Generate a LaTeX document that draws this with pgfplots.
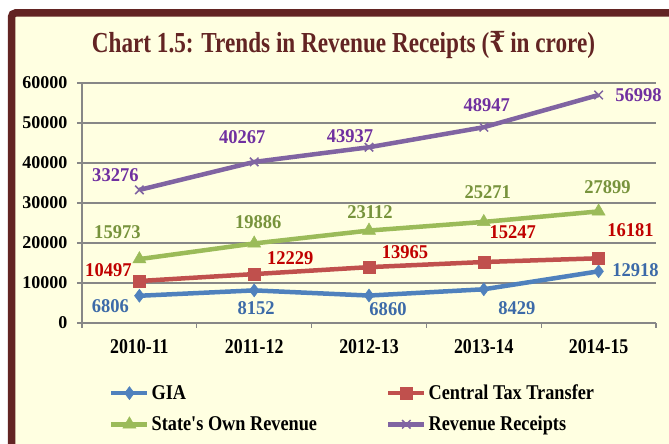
\documentclass[border=0pt]{standalone}
\usepackage{fontspec}
\setmainfont{Liberation Serif}
\newfontfamily\titlefont[FakeStretch=0.80]{Liberation Serif}
\newfontfamily\rupeefont[FakeStretch=0.80]{DejaVu Serif}
\newfontfamily\xfont[FakeStretch=0.85]{Liberation Serif}
\newfontfamily\legfont[FakeStretch=0.87]{Liberation Serif}
\newfontfamily\lblfont[FakeStretch=0.95]{Liberation Serif}
\usepackage{pgfplots}
\pgfplotsset{compat=1.18}
\definecolor{frame}{HTML}{632423}
\definecolor{bg}{HTML}{FFFFE1}
\definecolor{gridc}{HTML}{878787}
\definecolor{cgia}{HTML}{4F81BD}
\definecolor{cctt}{HTML}{C0504D}
\definecolor{csor}{HTML}{9BBB59}
\definecolor{crr}{HTML}{8064A2}
\definecolor{lgia}{HTML}{3C6AA8}
\definecolor{lctt}{HTML}{C00000}
\definecolor{lsor}{HTML}{77933C}
\definecolor{lrr}{HTML}{7030A0}

\pgfplotstableread{
x y
0 6806
1 8152
2 6860
3 8429
4 12918
}\gia
\pgfplotstableread{
x y
0 10497
1 12229
2 13965
3 15247
4 16181
}\ctt
\pgfplotstableread{
x y
0 15973
1 19886
2 23112
3 25271
4 27899
}\sor
\pgfplotstableread{
x y
0 33276
1 40267
2 43937
3 48947
4 56998
}\rr

\begin{document}
\begin{tikzpicture}[x=1pt,y=1pt]
\useasboundingbox (0,0) rectangle (669,444);
\fill[white] (0,0) rectangle (669,444);
\fill[bg] (11.5,0) rectangle (669,431);
\draw[frame, line width=7.5pt, rounded corners=4pt] (11.5,-5) -- (11.5,431) -- (675,431);
\node[anchor=base, text=frame, inner sep=0pt, font=\titlefont\bfseries\fontsize{29}{32}\selectfont] at (343.5,391) {Chart 1.5: Trends in Revenue Receipts ({\rupeefont\bfseries ₹}\,in crore)};

\begin{axis}[
  at={(82pt,121pt)}, anchor=south west,
  scale only axis, width=574pt, height=240pt,
  xmin=-0.5, xmax=4.5, ymin=0, ymax=60000,
  axis x line*=bottom, axis y line*=left,
  axis line style={draw=gridc, line width=1.2pt, -},
  ytick={0,10000,20000,30000,40000,50000,60000},
  yticklabels={0,10000,20000,30000,40000,50000,60000},
  scaled y ticks=false,
  xtick={0,1,2,3,4},
  xticklabels={2010-11,2011-12,2012-13,2013-14,2014-15},
  minor xtick={-0.5,0.5,1.5,2.5,3.5,4.5},
  tick align=outside,
  major tick length=5pt, minor tick length=5pt,
  every major x tick/.append style={draw=none},
  every tick/.append style={draw=gridc, line width=1.2pt},
  ymajorgrids, major grid style={draw=gridc, line width=1.2pt},
  yticklabel style={font=\bfseries\fontsize{18}{20}\selectfont, xshift=-6pt},
  xticklabel style={font=\xfont\bfseries\fontsize{21}{24}\selectfont, yshift=-8pt},
  clip=false,
  legend columns=2,
  legend cell align=left,
  legend style={at={(0.047,-0.357)}, anchor=west, draw=none, fill=none,
    inner sep=0pt, row sep=11pt,
    font=\legfont\bfseries\fontsize{21}{23}\selectfont,
    /tikz/every even column/.append style={column sep=67pt}},
  legend image code/.code={\draw[#1, mark repeat=2, mark phase=2] plot coordinates {(0pt,0pt) (18pt,0pt) (36pt,0pt)};},
]
\addplot[cgia, line width=4.5pt, mark=diamond*, mark size=6.5pt, mark options={line width=0.5pt, fill=cgia}] table[x=x,y=y]{\gia};
\addlegendentry{GIA}
\addplot[cctt, line width=4.5pt, mark=square*, mark size=6pt, mark options={line width=0.5pt, fill=cctt}] table[x=x,y=y]{\ctt};
\addlegendentry{Central Tax Transfer}
\addplot[csor, line width=4.5pt, mark=triangle*, mark size=7.5pt, mark options={line width=0.5pt, fill=csor}] table[x=x,y=y]{\sor};
\addlegendentry{State's Own Revenue}
\addplot[crr, line width=4.5pt, mark=x, mark size=6pt, mark options={line width=1.5pt}] table[x=x,y=y]{\rr};
\addlegendentry{Revenue Receipts}

\tikzset{lbl/.style={font=\lblfont\bfseries\fontsize{19.5}{22}\selectfont, inner sep=0pt, anchor=center}}
% GIA
\node[lbl, text=lgia, xshift=-29pt, yshift=-10pt] at (axis cs:0,6806) {6806};
\node[lbl, text=lgia, xshift=2pt, yshift=-18pt] at (axis cs:1,8152) {8152};
\node[lbl, text=lgia, xshift=19pt, yshift=-14pt] at (axis cs:2,6860) {6860};
\node[lbl, text=lgia, xshift=33pt, yshift=-19pt] at (axis cs:3,8429) {8429};
\node[lbl, text=lgia, xshift=37pt, yshift=1pt] at (axis cs:4,12918) {12918};
% Central
\node[lbl, text=lctt, xshift=-31pt, yshift=11pt] at (axis cs:0,10497) {10497};
\node[lbl, text=lctt, xshift=36pt, yshift=16pt] at (axis cs:1,12229) {12229};
\node[lbl, text=lctt, xshift=36pt, yshift=15pt] at (axis cs:2,13965) {13965};
\node[lbl, text=lctt, xshift=29pt, yshift=30pt] at (axis cs:3,15247) {15247};
\node[lbl, text=lctt, xshift=32pt, yshift=28pt] at (axis cs:4,16181) {16181};
% State's own
\node[lbl, text=lsor, xshift=-22pt, yshift=27pt] at (axis cs:0,15973) {15973};
\node[lbl, text=lsor, xshift=4pt, yshift=21pt] at (axis cs:1,19886) {19886};
\node[lbl, text=lsor, xshift=1pt, yshift=18pt] at (axis cs:2,23112) {23112};
\node[lbl, text=lsor, xshift=4pt, yshift=30pt] at (axis cs:3,25271) {25271};
\node[lbl, text=lsor, xshift=9pt, yshift=24pt] at (axis cs:4,27899) {27899};
% Revenue receipts
\node[lbl, text=lrr, xshift=-24pt, yshift=15pt] at (axis cs:0,33276) {33276};
\node[lbl, text=lrr, xshift=-12pt, yshift=25pt] at (axis cs:1,40267) {40267};
\node[lbl, text=lrr, xshift=-19pt, yshift=11pt] at (axis cs:2,43937) {43937};
\node[lbl, text=lrr, xshift=3pt, yshift=22pt] at (axis cs:3,48947) {48947};
\node[lbl, text=lrr, xshift=40pt, yshift=0pt] at (axis cs:4,56998) {56998};
\end{axis}
\end{tikzpicture}
\end{document}
